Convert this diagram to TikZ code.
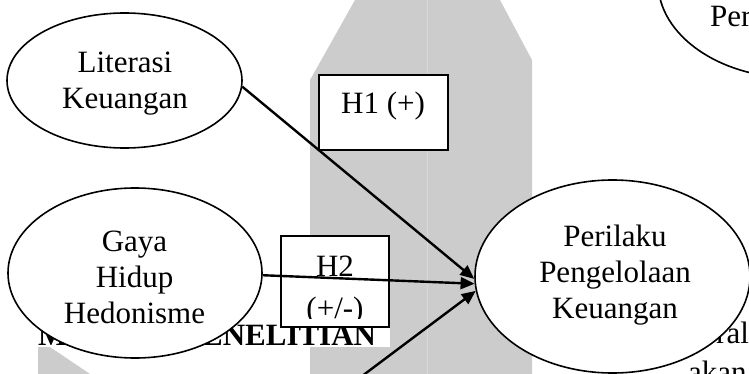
\documentclass[tikz,border=0pt]{standalone}
\usepackage{fontspec}
\setmainfont{Liberation Serif}
\usetikzlibrary{shapes.geometric,arrows.meta}
\definecolor{bggray}{RGB}{204,204,204}
\definecolor{divgray}{RGB}{216,216,216}
\begin{document}
\begin{tikzpicture}[x=1pt,y=-1pt,
  oval/.style={ellipse,draw,fill=white,line width=1.6pt,inner sep=0pt},
  lbl/.style={font=\fontsize{31}{36}\selectfont,align=center,inner sep=0pt,anchor=north},
  txt/.style={font=\fontsize{31}{36}\selectfont,inner sep=0pt,anchor=base west},
  hbox/.style={draw,fill=white,line width=2pt,inner sep=0pt},
  link/.style={line width=2.4pt,-{Triangle[length=14pt,width=12pt]}}]
\useasboundingbox (0,0) rectangle (749,374);
% background page shapes
\fill[bggray] (310,80) -- (355,0) -- (427,0) -- (427,374) -- (310,374) -- cycle;
\fill[bggray] (427,0) -- (500,0) -- (532,60) -- (532,374) -- (427,374) -- cycle;
\draw[divgray,line width=1pt] (427,0) -- (427,374);
\fill[bggray] (38,347) -- (50,347) -- (90,374) -- (38,374) -- cycle;
\fill[white] (38,326) rectangle (390,347);
\node[txt,font=\bfseries\fontsize{31}{36}\selectfont] (head) at (38,345) {METODE PENELITIAN};
\node[txt] (ral) at (716,343) {ral};
\node[txt] (akan) at (688,382) {akan};
% ellipses
\node[oval,minimum width=274pt,minimum height=192pt] (top) at (795,-18) {};
\node[txt] (toptxt) at (710,27) {Per};
\node[oval,minimum width=235pt,minimum height=135pt] (lit) at (124.5,80.5) {};
\node[lbl] (littxt) at (125,50) {\rule{0pt}{22pt}Literasi\\Keuangan};
\node[oval,minimum width=254pt,minimum height=170pt] (gaya) at (135,273) {};
\node[lbl] (gayatxt) at (134.5,229) {\rule{0pt}{22pt}Gaya\\Hidup\\Hedonisme};
\node[oval,minimum width=275pt,minimum height=193pt] (per) at (612.5,276.5) {};
\node[lbl] (pertxt) at (615,224) {\rule{0pt}{22pt}Perilaku\\Pengelolaan\\Keuangan};
% hypothesis boxes
\node[hbox,minimum width=129pt,minimum height=75pt] (h1) at (383.5,112.5) {};
\node[txt,anchor=base] (h1txt) at (383,114) {H1 (+)};
\node[hbox,minimum width=108pt,minimum height=91pt] (h2) at (335,281.5) {};
\begin{scope}
\clip (282,237) rectangle (388,318);
\node[txt,anchor=base] (h2a) at (335,276) {H2};
\node[txt,anchor=base] (h2b) at (335,318) {(+/-)};
\end{scope}
% connectors
\coordinate (src) at (298,424);
\draw[link] (lit.-3) -- (per.181);
\draw[link] (gaya.-1) -- (per.183);
\draw[link] (src) -- (per.186);
\end{tikzpicture}
\end{document}
